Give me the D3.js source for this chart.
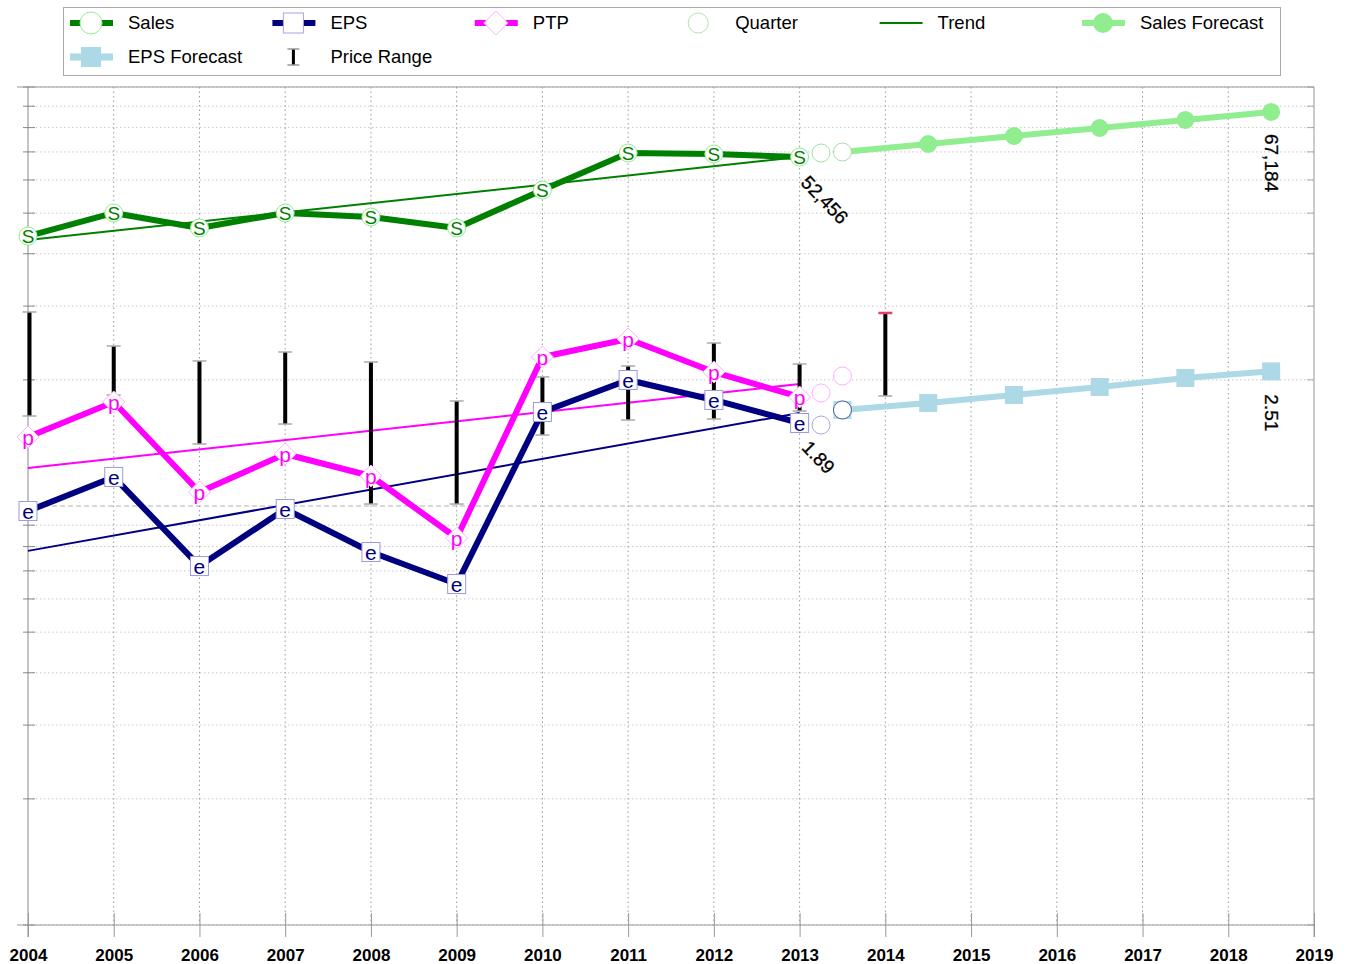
<!DOCTYPE html>
<html>
<head>
<meta charset="utf-8">
<script src="https://cdn.jsdelivr.net/npm/d3@7"></script>
<style>
body { margin: 0; background: #fff; }
text { font-family: Arial, "Liberation Sans", sans-serif; }
</style>
</head>
<body>
<svg id="chart" width="1348" height="964"></svg>
<script>
// annual values
const years = [2004, 2005, 2006, 2007, 2008, 2009, 2010, 2011, 2012, 2013];
const sales = [33977, 38571, 35513, 38571, 37727, 35513, 43748, 53620, 53327, 52456];
const eps = [1.165, 1.405, 0.861, 1.178, 0.930, 0.780, 2.008, 2.394, 2.145, 1.89];
const ptp = [11261, 13650, 8323, 10257, 9089, 6462, 17477, 19294, 16092, 14030];

// latest quarters
const quarterYears = [2013.25, 2013.5];
const salesQuarter = [53620, 53921];
const epsQuarter = [1.869, 2.030];
const ptpQuarter = [14342, 15743];

// forecasts
const forecastYears = [2013.5, 2014.5, 2015.5, 2016.5, 2017.5, 2018.5];
const salesForecast = [53921, 56338, 58871, 61522, 64290, 67184];
const epsForecast = [2.030, 2.109, 2.204, 2.303, 2.420, 2.51];

// trends (start / end)
const trendYears = [2004, 2013];
const salesTrend = [33236, 52456];
const epsTrend = [0.936, 1.997];
const ptpTrend = [9497, 15064];

// price range
const priceYears = [2004, 2005, 2006, 2007, 2008, 2009, 2010, 2011, 2012, 2013, 2014];
const priceHigh = [52.18, 43.28, 39.86, 41.88, 39.64, 31.99, 36.51, 38.78, 44.00, 39.21, 51.89];
const priceLow = [29.46, 33.06, 25.26, 28.19, 18.16, 18.16, 26.54, 28.82, 28.98, 30.28, 32.89];

const axisYears = [2004, 2005, 2006, 2007, 2008, 2009, 2010, 2011, 2012, 2013, 2014, 2015, 2016, 2017, 2018, 2019];

const legendItems = ["Sales", "EPS", "PTP", "Quarter", "Trend", "Sales Forecast", "EPS Forecast", "Price Range"];

const svg = d3.select("#chart");
const plotLeft = 28, plotRight = 1314, plotTop = 87, plotBottom = 925;

let x = d3.scaleLinear().domain([2004, 2019]).range([plotLeft, plotRight]);
let grid = d3.scaleLog().domain([1e3, 1e5]).range([plotBottom, plotTop]);
let ySales = d3.scaleLog().domain([770.65, 77065]).range([plotBottom, plotTop]);
let yEps = d3.scaleLog().domain([0.11977, 11.977]).range([plotBottom, plotTop]);
let yPrice = d3.scaleLog().domain([0.11977 * 15, 11.977 * 15]).range([plotBottom, plotTop]);

// horizontal grid
grid.ticks().forEach(t => {
    let special = t === 1e4;
    svg.append("line")
        .attr("x1", plotLeft).attr("x2", plotRight)
        .attr("y1", grid(t)).attr("y2", grid(t))
        .attr("stroke", special ? "#ccc" : "#c8c8c8")
        .attr("stroke-width", special ? 1.5 : 1)
        .attr("stroke-dasharray", special ? "5,3" : "1.5,2.5");
    svg.append("line")
        .attr("x1", plotLeft - 5).attr("x2", plotLeft + 7)
        .attr("y1", grid(t)).attr("y2", grid(t))
        .attr("stroke", "#888");
    svg.append("line")
        .attr("x1", plotRight - 7).attr("x2", plotRight)
        .attr("y1", grid(t)).attr("y2", grid(t))
        .attr("stroke", "#aaa");
});

// vertical grid
svg.selectAll(".vgrid")
    .data(axisYears.slice(1, -1))
    .enter()
    .append("line")
    .attr("x1", d => x(d)).attr("x2", d => x(d))
    .attr("y1", plotTop).attr("y2", plotBottom)
    .attr("stroke", "#999")
    .attr("stroke-dasharray", "1.5,3");

// frame
svg.append("line").attr("x1", 17).attr("x2", plotRight).attr("y1", plotTop).attr("y2", plotTop).attr("stroke", "#999");
svg.append("line").attr("x1", 17).attr("x2", plotRight).attr("y1", plotBottom).attr("y2", plotBottom).attr("stroke", "#999");
svg.append("line").attr("x1", plotLeft).attr("x2", plotLeft).attr("y1", plotTop).attr("y2", plotBottom + 12).attr("stroke", "#888");
svg.append("line").attr("x1", plotRight).attr("x2", plotRight).attr("y1", plotTop).attr("y2", plotBottom + 12).attr("stroke", "#999");

// x axis
let xAxis = svg.append("g")
    .attr("transform", `translate(0,${plotBottom})`)
    .call(d3.axisBottom(x).tickValues(axisYears).tickFormat(d3.format("d")).tickSize(12).tickPadding(12));
xAxis.select(".domain").remove();
xAxis.selectAll("line").attr("stroke", "#999").attr("y1", -12);
xAxis.selectAll("text")
    .attr("font-size", 17).attr("font-weight", "bold").attr("fill", "#000")
    .attr("font-family", "Arial, 'Liberation Sans', sans-serif");

// trend lines
function trend(scale, vals, color) {
    svg.append("line")
        .attr("x1", x(trendYears[0])).attr("y1", scale(vals[0]))
        .attr("x2", x(trendYears[1])).attr("y2", scale(vals[1]))
        .attr("stroke", color).attr("stroke-width", 2);
}
trend(ySales, salesTrend, "#008000");
trend(ySales, ptpTrend, "#ff00ff");
trend(yEps, epsTrend, "#000080");

// price bars
priceYears.forEach((yr, i) => {
    let px = x(yr) + (i === 0 ? 1.5 : 0);
    svg.append("line")
        .attr("x1", px).attr("x2", px)
        .attr("y1", yPrice(priceHigh[i])).attr("y2", yPrice(priceLow[i]))
        .attr("stroke", "#000").attr("stroke-width", 4);
    [priceHigh[i], priceLow[i]].forEach((v, j) => {
        svg.append("line")
            .attr("x1", px - 7).attr("x2", px + 7)
            .attr("y1", yPrice(v)).attr("y2", yPrice(v))
            .attr("stroke", (yr === 2014 && j === 0) ? "#e8406a" : "#aaa")
            .attr("stroke-width", (yr === 2014 && j === 0) ? 2.5 : 1.5);
    });
});

// forecast lines
let salesFcLine = d3.line().x((d, i) => x(forecastYears[i])).y(d => ySales(d));
svg.append("path").attr("d", salesFcLine(salesForecast))
    .attr("fill", "none").attr("stroke", "#90ee90").attr("stroke-width", 6);
svg.selectAll(".sfc").data(salesForecast.slice(1)).enter().append("circle")
    .attr("cx", (d, i) => x(forecastYears[i + 1])).attr("cy", d => ySales(d))
    .attr("r", 9).attr("fill", "#90ee90");

let epsFcLine = d3.line().x((d, i) => x(forecastYears[i])).y(d => yEps(d));
svg.append("path").attr("d", epsFcLine(epsForecast))
    .attr("fill", "none").attr("stroke", "#add8e6").attr("stroke-width", 6);
svg.selectAll(".efc").data(epsForecast).enter().append("rect")
    .attr("x", (d, i) => x(forecastYears[i]) - 9).attr("y", d => yEps(d) - 9)
    .attr("width", 18).attr("height", 18).attr("fill", "#add8e6");

// main series
function series(vals, scale, color) {
    let line = d3.line().x((d, i) => x(years[i])).y(d => scale(d));
    svg.append("path").attr("d", line(vals))
        .attr("fill", "none").attr("stroke", color).attr("stroke-width", 6)
        .attr("stroke-linejoin", "round");
}
series(ptp, ySales, "#ff00ff");
series(eps, yEps, "#000080");
series(sales, ySales, "#008000");

// markers
function markers(vals, scale, shape, stroke, color, letter, size) {
    vals.forEach((v, i) => {
        let cx = x(years[i]), cy = scale(v);
        let g = svg.append("g").attr("transform", `translate(${cx},${cy})`);
        if (shape === "circle") {
            g.append("circle").attr("r", 9).attr("fill", "#fff").attr("stroke", stroke);
        } else if (shape === "square") {
            g.append("rect").attr("x", -9).attr("y", -9.5).attr("width", 18).attr("height", 19)
                .attr("fill", "#fff").attr("stroke", stroke);
        } else {
            g.append("path").attr("d", "M0,-11L11,0L0,11L-11,0Z").attr("fill", "#fff").attr("stroke", stroke);
        }
        g.append("text").attr("text-anchor", "middle").attr("dy", "0.36em")
            .attr("font-size", size).attr("fill", color).text(letter);
    });
}
markers(ptp, ySales, "diamond", "#ffb0ff", "#ff00ff", "p", 21);
markers(eps, yEps, "square", "#9a9ae0", "#000080", "e", 21);
markers(sales, ySales, "circle", "#90ee90", "#008000", "S", 19);

// quarter markers
function quarters(vals, scale, stroke) {
    vals.forEach((v, i) => {
        svg.append("circle")
            .attr("cx", x(quarterYears[i])).attr("cy", scale(v))
            .attr("r", 9).attr("fill", "#fff").attr("stroke", stroke);
    });
}
quarters(salesQuarter, ySales, "#a8dca8");
quarters(ptpQuarter, ySales, "#ffb0ff");
quarters(epsQuarter, yEps, "#a8a8e0");
svg.append("circle")
    .attr("cx", x(quarterYears[1])).attr("cy", yEps(epsQuarter[1]))
    .attr("r", 9).attr("fill", "#fff").attr("stroke", "#4a5fb0");

// value labels
function label(px, py, rot, txt) {
    svg.append("text")
        .attr("transform", `translate(${px},${py}) rotate(${rot})`)
        .attr("dy", "0.35em").attr("font-size", 19).attr("fill", "#000")
        .attr("stroke", "#000").attr("stroke-width", 0.3)
        .text(txt);
}
let fmt = d3.format(",");
label(x(2013) + 5, ySales(sales[9]) + 22, 46, fmt(sales[9]));
label(x(2013) + 6, yEps(eps[9]) + 21, 46, eps[9].toFixed(2));
label(x(2018.5) + 1, ySales(salesForecast[5]) + 22, 90, fmt(salesForecast[5]));
label(x(2018.5) + 1, yEps(epsForecast[5]) + 23, 90, epsForecast[5].toFixed(2));

// legend
let legend = svg.append("g");
legend.append("rect").attr("x", 63.5).attr("y", 7.5).attr("width", 1217).attr("height", 68)
    .attr("fill", "#fff").attr("stroke", "#aaa");

legendItems.forEach((name, i) => {
    let col = i % 6, row = Math.floor(i / 6);
    let cx = 91 + col * 202.4, cy = 23 + row * 34;
    let g = legend.append("g").attr("transform", `translate(${cx},${cy})`);
    if (name === "Sales") {
        g.append("line").attr("x1", -21).attr("x2", 22).attr("stroke", "#008000").attr("stroke-width", 6);
        g.append("circle").attr("r", 11).attr("fill", "#fff").attr("stroke", "#90ee90");
    } else if (name === "EPS") {
        g.append("line").attr("x1", -21).attr("x2", 22).attr("stroke", "#000080").attr("stroke-width", 6);
        g.append("rect").attr("x", -10).attr("y", -10).attr("width", 20).attr("height", 20)
            .attr("fill", "#fff").attr("stroke", "#b0a0e8");
    } else if (name === "PTP") {
        g.append("line").attr("x1", -21).attr("x2", 22).attr("stroke", "#ff00ff").attr("stroke-width", 6);
        g.append("path").attr("d", "M0,-12L12,0L0,12L-12,0Z").attr("fill", "#fff").attr("stroke", "#ffb0ff");
    } else if (name === "Quarter") {
        g.append("circle").attr("r", 10).attr("fill", "#fff").attr("stroke", "#b8e0b8");
    } else if (name === "Trend") {
        g.append("line").attr("x1", -21).attr("x2", 22).attr("stroke", "#008000").attr("stroke-width", 2);
    } else if (name === "Sales Forecast") {
        g.append("line").attr("x1", -21).attr("x2", 22).attr("stroke", "#90ee90").attr("stroke-width", 6);
        g.append("circle").attr("r", 10).attr("fill", "#90ee90");
    } else if (name === "EPS Forecast") {
        g.append("line").attr("x1", -21).attr("x2", 22).attr("stroke", "#add8e6").attr("stroke-width", 7);
        g.append("rect").attr("x", -10).attr("y", -10).attr("width", 20).attr("height", 20).attr("fill", "#add8e6");
    } else if (name === "Price Range") {
        g.append("line").attr("y1", -8).attr("y2", 8).attr("stroke", "#000").attr("stroke-width", 3);
        g.append("line").attr("x1", -6).attr("x2", 6).attr("y1", -8).attr("y2", -8).attr("stroke", "#999").attr("stroke-width", 1.5);
        g.append("line").attr("x1", -6).attr("x2", 6).attr("y1", 8).attr("y2", 8).attr("stroke", "#999").attr("stroke-width", 1.5);
    }
    legend.append("text")
        .attr("x", cx + 37).attr("y", cy).attr("dy", "0.35em")
        .attr("font-size", 18.5).attr("fill", "#000").text(name);
});
</script>
</body>
</html>
